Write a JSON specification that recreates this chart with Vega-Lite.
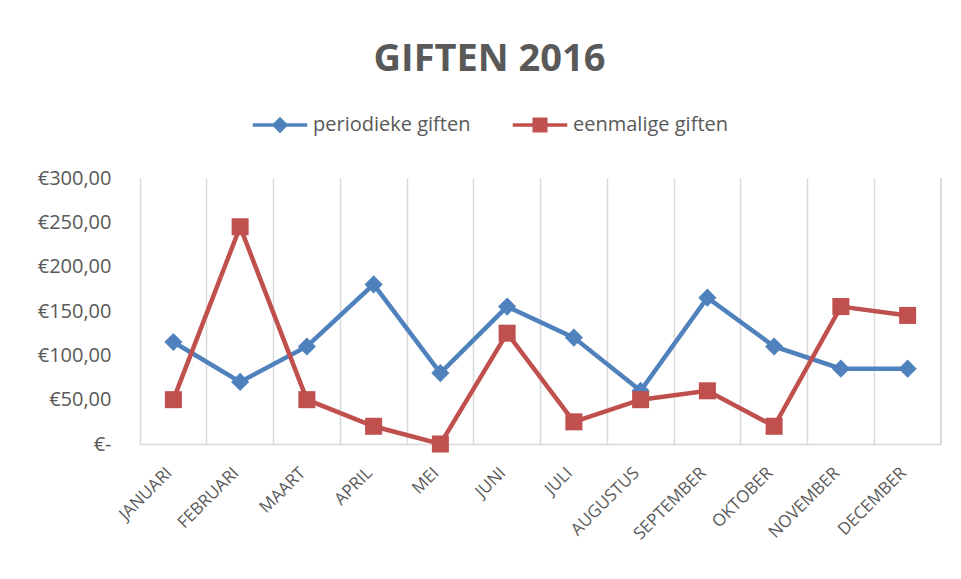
{
  "$schema": "https://vega.github.io/schema/vega-lite/v6.json",
  "autosize": {"type": "none"},
  "width": 801,
  "height": 266,
  "padding": {"left": 140, "top": 178, "right": 20, "bottom": 135},
  "background": "white",
  "title": {
    "text": "GIFTEN 2016",
    "font": "Open Sans",
    "fontSize": 38,
    "fontWeight": "bold",
    "color": "#595959",
    "anchor": "middle",
    "frame": "group",
    "dx": -51,
    "offset": 36
  },
  "config": {
    "view": {"stroke": null},
    "font": "Open Sans"
  },
  "data": {
    "values": [
      {"maand": "JANUARI", "serie": "periodieke giften", "bedrag": 115},
      {"maand": "FEBRUARI", "serie": "periodieke giften", "bedrag": 70},
      {"maand": "MAART", "serie": "periodieke giften", "bedrag": 110},
      {"maand": "APRIL", "serie": "periodieke giften", "bedrag": 180},
      {"maand": "MEI", "serie": "periodieke giften", "bedrag": 80},
      {"maand": "JUNI", "serie": "periodieke giften", "bedrag": 155},
      {"maand": "JULI", "serie": "periodieke giften", "bedrag": 120},
      {"maand": "AUGUSTUS", "serie": "periodieke giften", "bedrag": 60},
      {"maand": "SEPTEMBER", "serie": "periodieke giften", "bedrag": 165},
      {"maand": "OKTOBER", "serie": "periodieke giften", "bedrag": 110},
      {"maand": "NOVEMBER", "serie": "periodieke giften", "bedrag": 85},
      {"maand": "DECEMBER", "serie": "periodieke giften", "bedrag": 85},
      {"maand": "JANUARI", "serie": "eenmalige giften", "bedrag": 50},
      {"maand": "FEBRUARI", "serie": "eenmalige giften", "bedrag": 245},
      {"maand": "MAART", "serie": "eenmalige giften", "bedrag": 50},
      {"maand": "APRIL", "serie": "eenmalige giften", "bedrag": 20},
      {"maand": "MEI", "serie": "eenmalige giften", "bedrag": 0},
      {"maand": "JUNI", "serie": "eenmalige giften", "bedrag": 125},
      {"maand": "JULI", "serie": "eenmalige giften", "bedrag": 25},
      {"maand": "AUGUSTUS", "serie": "eenmalige giften", "bedrag": 50},
      {"maand": "SEPTEMBER", "serie": "eenmalige giften", "bedrag": 60},
      {"maand": "OKTOBER", "serie": "eenmalige giften", "bedrag": 20},
      {"maand": "NOVEMBER", "serie": "eenmalige giften", "bedrag": 155},
      {"maand": "DECEMBER", "serie": "eenmalige giften", "bedrag": 145}
    ]
  },
  "encoding": {
    "x": {
      "field": "maand",
      "type": "nominal",
      "sort": ["JANUARI","FEBRUARI","MAART","APRIL","MEI","JUNI","JULI","AUGUSTUS","SEPTEMBER","OKTOBER","NOVEMBER","DECEMBER"],
      "scale": {"paddingInner": 0, "paddingOuter": 0},
      "axis": {
        "title": null,
        "labelAngle": -45,
        "labelAlign": "right",
        "labelBaseline": "middle",
        "labelFontSize": 17,
        "labelColor": "#595959",
        "labelPadding": 26,
        "labelOffset": -4,
        "ticks": false,
        "domainColor": "#d9d9d9",
        "domainWidth": 1.5,
        "grid": true,
        "gridColor": "#d9d9d9",
        "gridWidth": 1.5,
        "bandPosition": 0
      }
    },
    "y": {
      "field": "bedrag",
      "type": "quantitative",
      "scale": {"domain": [0, 300]},
      "axis": {
        "title": null,
        "values": [0, 50, 100, 150, 200, 250, 300],
        "labelExpr": "datum.value == 0 ? '€-' : '€' + replace(format(datum.value, '.2f'), '.', ',')",
        "labelFontSize": 20,
        "labelColor": "#595959",
        "labelPadding": 29,
        "ticks": false,
        "domain": false,
        "grid": false
      }
    }
  },
  "layer": [
    {
      "mark": {"type": "rule", "color": "#d9d9d9", "strokeWidth": 1.5},
      "encoding": {
        "x": {"datum": "DECEMBER", "bandPosition": 1},
        "y": null
      }
    },
    {
      "mark": {"type": "line", "strokeWidth": 4.5},
      "encoding": {
        "color": {
          "field": "serie",
          "type": "nominal",
          "scale": {"domain": ["periodieke giften", "eenmalige giften"], "range": ["#4F81BD", "#C0504D"]},
          "legend": {
            "title": null,
            "orient": "none",
            "direction": "horizontal",
            "legendX": 130,
            "legendY": -63,
            "labelFontSize": 20,
            "labelColor": "#595959",
            "symbolSize": 290,
            "symbolStrokeWidth": 0,
            "symbolOpacity": 1,
            "labelOffset": 23,
            "columnPadding": 41,
            "encode": {
              "symbols": {
                "update": {
                  "shape": {"signal": "datum.label === 'periodieke giften' ? 'M-3.2,-0.2H3.2V0.2H-3.2Z M0,-0.96L0.96,0L0,0.96L-0.96,0Z' : 'M-3.2,-0.2H3.2V0.2H-3.2Z M-0.88,-0.88H0.88V0.88H-0.88Z'"},
                  "fill": {"scale": "color", "field": "value"},
                  "size": {"value": 290},
                  "strokeWidth": {"value": 0}
                }
              }
            }
          }
        }
      }
    },
    {
      "transform": [{"filter": "datum.serie === 'periodieke giften'"}],
      "mark": {"type": "point", "filled": true, "opacity": 1, "shape": "diamond", "size": 330, "color": "#4F81BD"}
    },
    {
      "transform": [{"filter": "datum.serie === 'eenmalige giften'"}],
      "mark": {"type": "point", "filled": true, "opacity": 1, "shape": "square", "size": 290, "color": "#C0504D"}
    }
  ]
}
